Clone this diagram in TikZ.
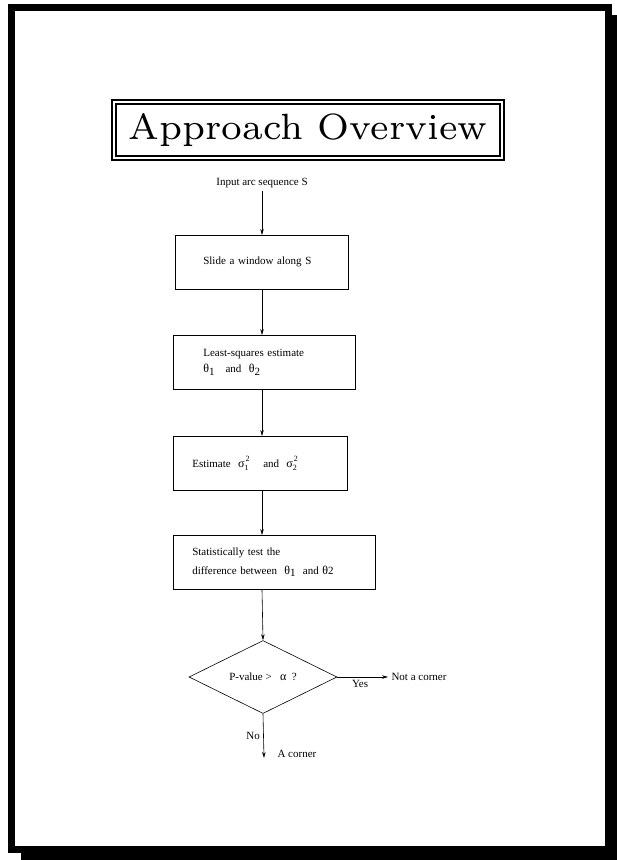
\documentclass[tikz,border=0pt]{standalone}
\usepackage{fontspec}
\newfontfamily\figfont{Liberation Serif}
\usetikzlibrary{shapes.geometric,arrows.meta}
\newcommand{\gk}[1]{{\large #1}}
\newcommand{\lo}[1]{\raisebox{-2.5pt}{#1}}
\newcommand{\sq}[2]{\rlap{\hspace{1pt}\raisebox{6pt}{\footnotesize #2}}\raisebox{-3.5pt}{\footnotesize #1}}

\begin{document}
\begin{tikzpicture}[x=1pt,y=-1pt,
    txt/.style={font=\figfont\fontsize{11}{14}\selectfont},
    proc/.style={txt,draw,line width=0.6pt,align=left,inner ysep=0pt,minimum height=54pt,anchor=north west},
    arr/.style={-{Stealth[length=6pt,width=3.5pt]},line width=0.6pt}]
      \useasboundingbox (0,0) rectangle (617,860);
      \fill (21,15) rectangle (617,860);
      \fill (8,4) rectangle (612,853);
      \fill[white] (15,11) rectangle (605,846);
      \node[draw,double,double distance=2pt,line width=2pt,inner xsep=14pt,inner ysep=11pt]
        (title) at (308,130) {\resizebox{359pt}{!}{\fontsize{7}{8}\selectfont Approach Overview}};
      \node[txt] (input) at (262,183) {Input arc sequence S};
      \node[proc,text width=117pt,inner xsep=28pt] (b1) at (175,235) {Slide a window along S};
      \node[proc,text width=122pt,inner xsep=30pt] (b2) at (173,335)
        {Least-squares estimate\\[2pt] \gk{θ}\lo{1}\ \ \ and\ \ \gk{θ}\lo{2}};
      \node[proc,text width=136pt,inner xsep=19pt] (b3) at (173,436)
        {Estimate\ \ \gk{σ}\sq{1}{2}\ \ \ \ and\ \ \gk{σ}\sq{2}{2}};
      \node[proc,text width=164pt,inner xsep=19pt] (b4) at (173,535)
        {Statistically test the\\[5pt] difference between\ \ \gk{θ}\lo{1}\ \ and \gk{θ}2};
      \node[txt,draw,diamond,aspect=2,line width=0.6pt,inner sep=0pt,
        minimum width=148pt,minimum height=73pt] (test) at (263,677)
        {P-value >\ \ \ \gk{α}\ \ ?};
      \node[txt,anchor=west] (notc) at (388,677) {Not a corner};
      \coordinate (nend) at (264,758);
      \node[txt,anchor=west] (acorn) at (274,754) {A corner};
      \draw[arr] (input) -- (input |- b1.north);
      \draw[arr] (b1.south -| input) -- (b2.north -| input);
      \draw[arr] (b2.south -| input) -- (b3.north -| input);
      \draw[arr] (b3.south -| input) -- (b4.north -| input);
      \draw[arr] (b4.south -| input) -- (test.north);
      \draw[arr] (test.east) -- (notc.west) node[txt,pos=0.45,below] {Yes};
      \draw[arr] (test.south) -- (nend) node[txt,midway,left] {No};
\end{tikzpicture}
\end{document}
